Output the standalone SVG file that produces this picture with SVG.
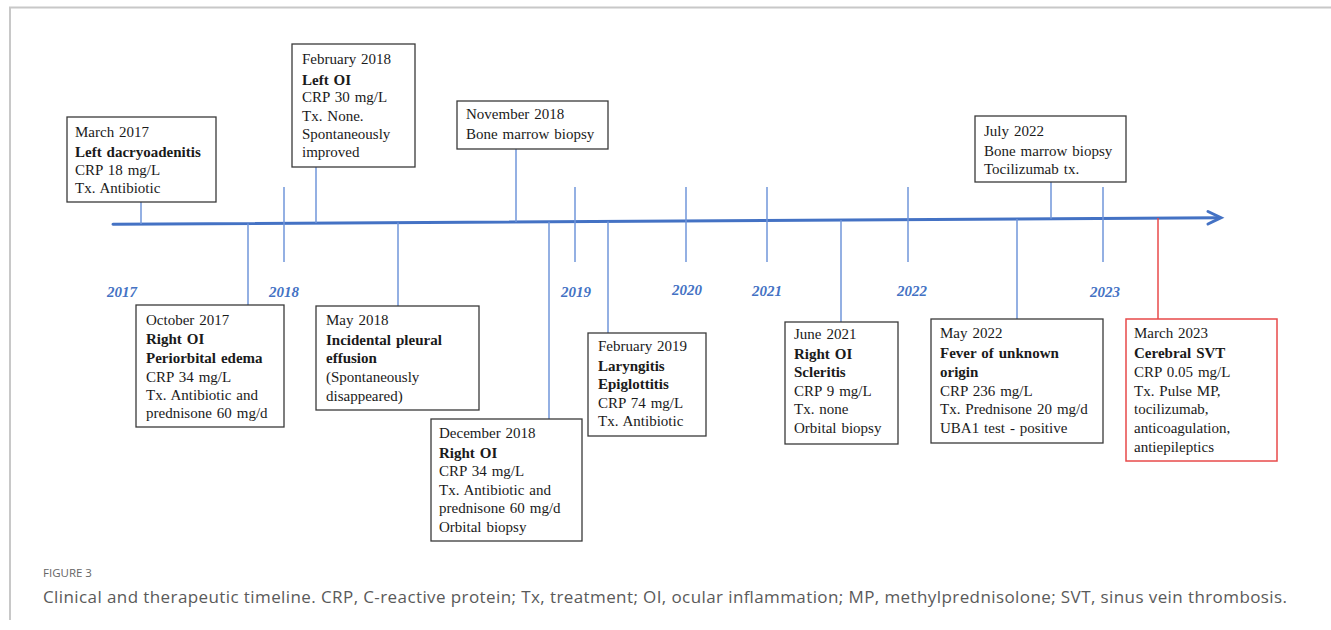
<svg xmlns="http://www.w3.org/2000/svg" width="1331" height="630" viewBox="0 0 1331 630">
<style>
.box{fill:#fff;stroke:#3a3a3a;stroke-width:1.3}
.red{fill:#fff;stroke:#e84a4a;stroke-width:1.5}
.t{font-family:"Liberation Serif","Times New Roman",serif;font-size:15px;fill:#1a1a1a;word-spacing:1.2px}
.b{font-weight:bold}
.yr{font-family:"Liberation Serif","Times New Roman",serif;font-size:15px;font-weight:bold;font-style:italic;fill:#4472c4}
.tick{stroke:#7096da;stroke-width:1.5}
.conn{stroke:#7096da;stroke-width:1.5}
.cred{stroke:#e84a4a;stroke-width:1.5}
.axis{stroke:#4472c4;stroke-width:3;fill:none;stroke-linecap:round}
</style>
<rect width="1331" height="630" fill="#fff"/>
<path d="M10,620 V7.5 H1331" fill="none" stroke="#c8c8c8" stroke-width="2"/>

<g id="connectors">
  <line class="axis" x1="113" y1="224.3" x2="1219" y2="217.7"/>
  <polyline class="axis" points="1208,211.5 1221,217.7 1208,224"/>
  <g id="ticks">
    <line class="tick" x1="284" y1="187" x2="284" y2="262"/>
    <line class="tick" x1="575" y1="187" x2="575" y2="262"/>
    <line class="tick" x1="686" y1="187" x2="686" y2="262"/>
    <line class="tick" x1="767" y1="187" x2="767" y2="262"/>
    <line class="tick" x1="908" y1="187" x2="908" y2="262"/>
    <line class="tick" x1="1103" y1="187" x2="1103" y2="262"/>
  </g>
  <line class="conn" x1="141" y1="202" x2="141" y2="224.1"/>
  <line class="conn" x1="316" y1="167" x2="316" y2="223.1"/>
  <line class="conn" x1="516" y1="149" x2="516" y2="221.9"/>
  <line class="conn" x1="1051" y1="182" x2="1051" y2="218.7"/>
  <line class="conn" x1="248" y1="223.5" x2="248" y2="305"/>
  <line class="conn" x1="398" y1="222.6" x2="398" y2="306"/>
  <line class="conn" x1="549" y1="221.7" x2="549" y2="419"/>
  <line class="conn" x1="608" y1="221.4" x2="608" y2="333"/>
  <line class="conn" x1="841" y1="220" x2="841" y2="322"/>
  <line class="conn" x1="1017" y1="218.9" x2="1017" y2="319"/>
  <line class="cred" x1="1158" y1="218.1" x2="1158" y2="319"/>
</g>

<g id="years">
  <text class="yr" x="107" y="297">2017</text>
  <text class="yr" x="269" y="297">2018</text>
  <text class="yr" x="561" y="297">2019</text>
  <text class="yr" x="672" y="295">2020</text>
  <text class="yr" x="752" y="296">2021</text>
  <text class="yr" x="897" y="296">2022</text>
  <text class="yr" x="1090" y="297">2023</text>
</g>

<g id="mar2017">
  <rect class="box" x="67" y="117" width="149" height="85"/>
  <text class="t" x="75" y="137">March 2017</text>
  <text class="t b" x="75" y="157">Left dacryoadenitis</text>
  <text class="t" x="75" y="175">CRP 18 mg/L</text>
  <text class="t" x="75" y="193">Tx. Antibiotic</text>
</g>

<g id="feb2018">
  <rect class="box" x="292" y="44" width="123" height="123"/>
  <text class="t" x="302" y="64">February 2018</text>
  <text class="t b" x="302" y="85">Left OI</text>
  <text class="t" x="302" y="102">CRP 30 mg/L</text>
  <text class="t" x="302" y="121">Tx. None.</text>
  <text class="t" x="302" y="139">Spontaneously</text>
  <text class="t" x="302" y="157">improved</text>
</g>

<g id="nov2018">
  <rect class="box" x="457" y="101" width="151" height="48"/>
  <text class="t" x="466" y="119">November 2018</text>
  <text class="t" x="466" y="139">Bone marrow biopsy</text>
</g>

<g id="jul2022">
  <rect class="box" x="975" y="116" width="151" height="66"/>
  <text class="t" x="984" y="136">July 2022</text>
  <text class="t" x="984" y="156">Bone marrow biopsy</text>
  <text class="t" x="984" y="174">Tocilizumab tx.</text>
</g>

<g id="oct2017">
  <rect class="box" x="136" y="305" width="148" height="122"/>
  <text class="t" x="146" y="325">October 2017</text>
  <text class="t b" x="146" y="344">Right OI</text>
  <text class="t b" x="146" y="363">Periorbital edema</text>
  <text class="t" x="146" y="382">CRP 34 mg/L</text>
  <text class="t" x="146" y="400">Tx. Antibiotic and</text>
  <text class="t" x="146" y="418">prednisone 60 mg/d</text>
</g>

<g id="may2018">
  <rect class="box" x="316" y="306" width="163" height="104"/>
  <text class="t" x="326" y="325">May 2018</text>
  <text class="t b" x="326" y="345">Incidental pleural</text>
  <text class="t b" x="326" y="363">effusion</text>
  <text class="t" x="326" y="382">(Spontaneously</text>
  <text class="t" x="326" y="401">disappeared)</text>
</g>

<g id="dec2018">
  <rect class="box" x="431" y="419" width="151" height="122"/>
  <text class="t" x="439" y="438">December 2018</text>
  <text class="t b" x="439" y="458">Right OI</text>
  <text class="t" x="439" y="476">CRP 34 mg/L</text>
  <text class="t" x="439" y="495">Tx. Antibiotic and</text>
  <text class="t" x="439" y="513">prednisone 60 mg/d</text>
  <text class="t" x="439" y="532">Orbital biopsy</text>
</g>

<g id="feb2019">
  <rect class="box" x="588" y="333" width="118" height="103"/>
  <text class="t" x="598" y="351">February 2019</text>
  <text class="t b" x="598" y="371">Laryngitis</text>
  <text class="t b" x="598" y="389">Epiglottitis</text>
  <text class="t" x="598" y="408">CRP 74 mg/L</text>
  <text class="t" x="598" y="426">Tx. Antibiotic</text>
</g>

<g id="jun2021">
  <rect class="box" x="785" y="322" width="113" height="122"/>
  <text class="t" x="794" y="339">June 2021</text>
  <text class="t b" x="794" y="359">Right OI</text>
  <text class="t b" x="794" y="377">Scleritis</text>
  <text class="t" x="794" y="396">CRP 9 mg/L</text>
  <text class="t" x="794" y="414">Tx. none</text>
  <text class="t" x="794" y="433">Orbital biopsy</text>
</g>

<g id="may2022">
  <rect class="box" x="931" y="319" width="172" height="124"/>
  <text class="t" x="940" y="338">May 2022</text>
  <text class="t b" x="940" y="358">Fever of unknown</text>
  <text class="t b" x="940" y="377">origin</text>
  <text class="t" x="940" y="396">CRP 236 mg/L</text>
  <text class="t" x="940" y="414">Tx. Prednisone 20 mg/d</text>
  <text class="t" x="940" y="433">UBA1 test - positive</text>
</g>

<g id="mar2023">
  <rect class="red" x="1126" y="319" width="151" height="142"/>
  <text class="t" x="1134" y="338">March 2023</text>
  <text class="t b" x="1134" y="358">Cerebral SVT</text>
  <text class="t" x="1134" y="377">CRP 0.05 mg/L</text>
  <text class="t" x="1134" y="396">Tx. Pulse MP,</text>
  <text class="t" x="1134" y="414">tocilizumab,</text>
  <text class="t" x="1134" y="433">anticoagulation,</text>
  <text class="t" x="1134" y="452">antiepileptics</text>
</g>

<g id="caption">
  <text x="43" y="577" font-family="'Open Sans','Noto Sans',sans-serif" font-size="11.5" fill="#666">FIGURE 3</text>
  <text x="43" y="603" font-family="'Open Sans','Noto Sans',sans-serif" font-size="17" fill="#5a5a5a" textLength="1244" lengthAdjust="spacing">Clinical and therapeutic timeline. CRP, C-reactive protein; Tx, treatment; OI, ocular inflammation; MP, methylprednisolone; SVT, sinus vein thrombosis.</text>
</g>
</svg>
